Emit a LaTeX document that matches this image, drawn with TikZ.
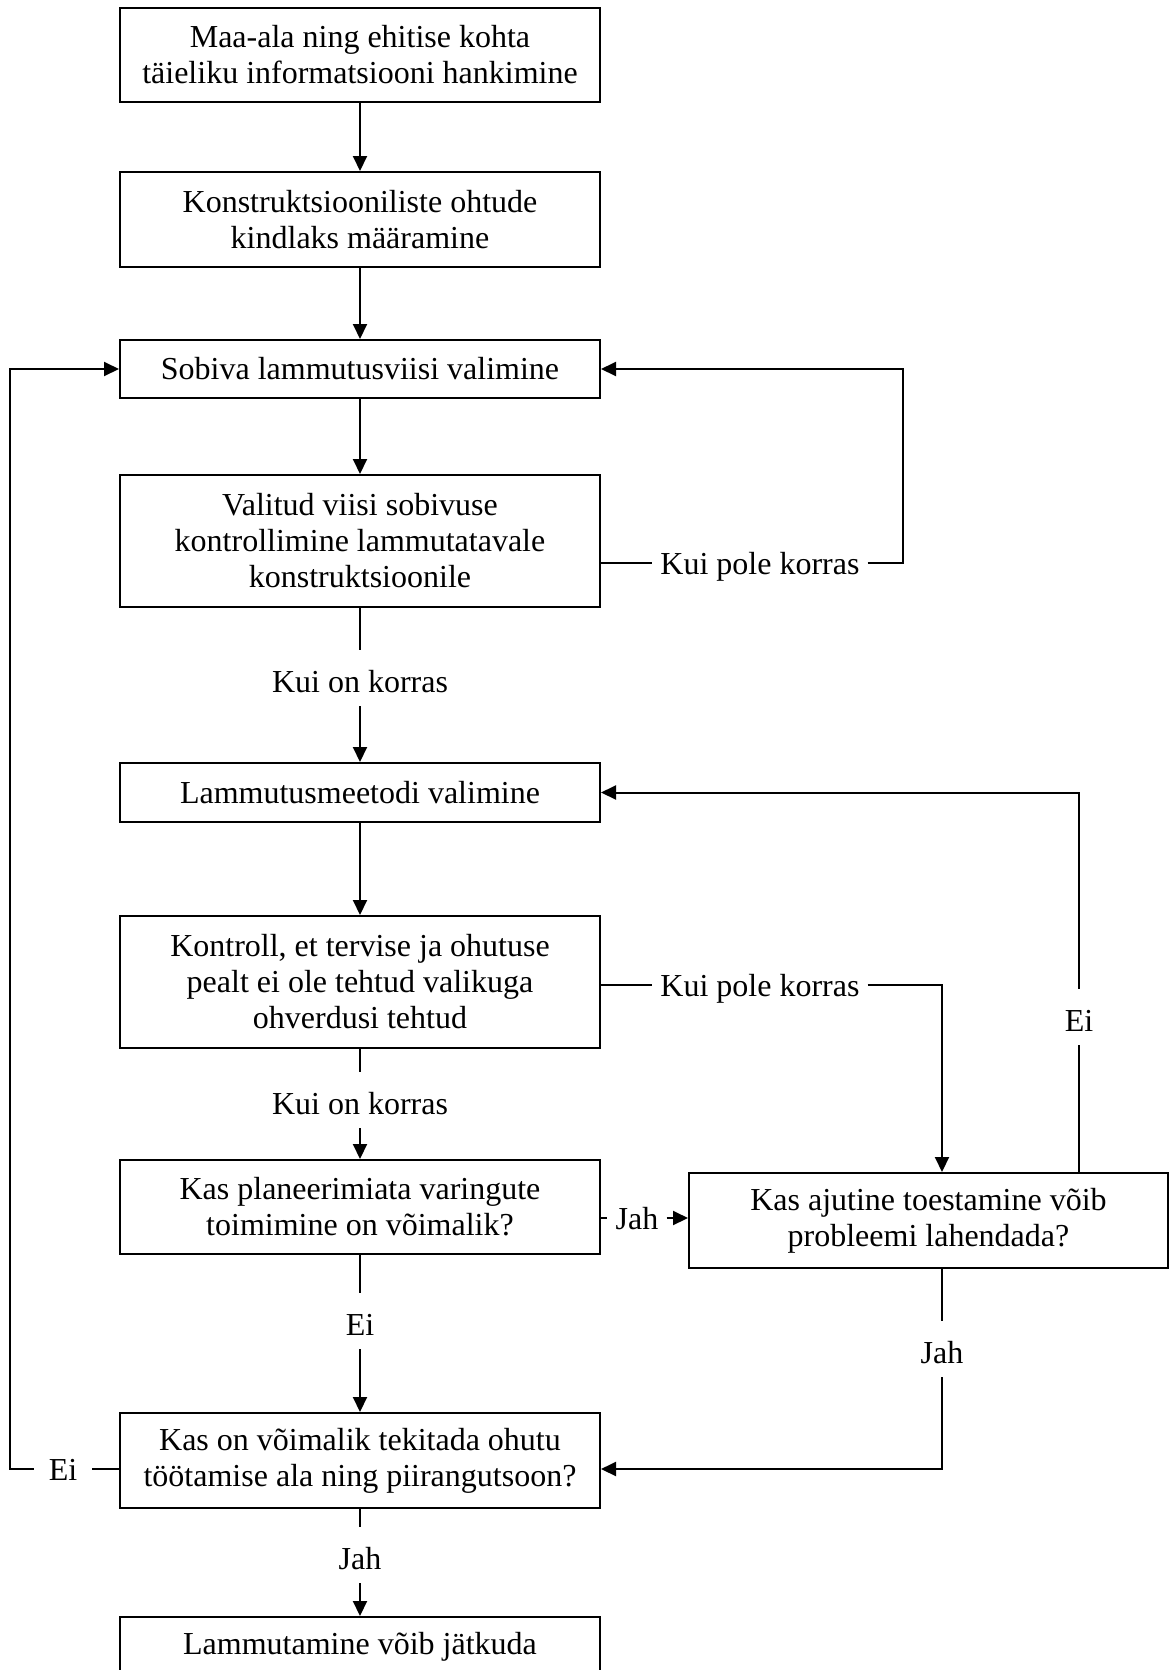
\documentclass[tikz,border=0pt]{standalone}
\usepackage{fontspec}
\setmainfont{Liberation Serif}
\usetikzlibrary{arrows.meta,calc}
\begin{document}
\begin{tikzpicture}[x=1pt,y=-1pt,
  font=\fontsize{32}{36}\selectfont,
  box/.style={draw,line width=2pt,minimum width=480pt,inner sep=0pt,align=center},
  vlab/.style={inner xsep=0pt,inner ysep=14pt,text height=28pt,text depth=0pt},
  hlab/.style={inner xsep=8pt,inner ysep=0pt,text height=23pt,text depth=0pt},
  conn/.style={line width=2pt},
  arr/.style={conn,-{Triangle[length=15pt,width=14pt]}}]
\useasboundingbox (0,0) rectangle (1170,1670);
\clip (0,0) rectangle (1170,1670);
% boxes
\node[box,minimum height=94pt] (b1) at (360,55) {Maa-ala ning ehitise kohta\\täieliku informatsiooni hankimine};
\node[box,minimum height=95pt] (b2) at (360,219.5) {Konstruktsiooniliste ohtude\\kindlaks määramine};
\node[box,minimum height=58pt] (b3) at (360,369) {Sobiva lammutusviisi valimine};
\node[box,minimum height=132pt] (b4) at (360,541) {Valitud viisi sobivuse\\kontrollimine lammutatavale\\konstruktsioonile};
\node[vlab] (k1) at (360,678) {Kui on korras};
\node[box,minimum height=59pt] (b5) at (360,792.5) {Lammutusmeetodi valimine};
\node[box,minimum height=132pt] (b6) at (360,982) {Kontroll, et tervise ja ohutuse\\pealt ei ole tehtud valikuga\\ohverdusi tehtud};
\node[vlab] (k2) at (360,1100) {Kui on korras};
\node[box,minimum height=94pt] (q1) at (360,1207) {Kas planeerimiata varingute\\toimimine on võimalik?};
\node[hlab] (j1) at (637,1218) {Jah};
\node[box,minimum width=479pt,minimum height=95pt] (q2) at (928.5,1220.5) {Kas ajutine toestamine võib\\probleemi lahendada?};
\node[vlab] (e1) at (360,1321) {Ei};
\node[vlab] (j2) at (942,1349) {Jah};
\node[box,minimum height=95pt] (q3) at (360,1460.5) {Kas on võimalik tekitada ohutu\\töötamise ala ning piirangutsoon?};
\node[hlab,inner xsep=15pt] (e2) at (63,1469) {Ei};
\node[vlab] (j3) at (360,1555) {Jah};
\node[box,minimum height=60pt] (fin) at (360,1647) {Lammutamine võib jätkuda};
\node[hlab] (p1) at (760,563) {Kui pole korras};
\node[hlab] (p2) at (760,985) {Kui pole korras};
\node[vlab] (e3) at (1079,1017) {Ei};
\coordinate (c1) at (903,563);
\coordinate (c3) at (10,1469);
% main flow
\draw[arr] (b1) -- (b2);
\draw[arr] (b2) -- (b3);
\draw[arr] (b3) -- (b4);
\draw[conn] (b4) -- (k1);
\draw[arr] (k1) -- (b5);
\draw[arr] (b5) -- (b6);
\draw[conn] (b6) -- (k2);
\draw[arr] (k2) -- (q1);
\draw[conn] (q1) -- (e1);
\draw[arr] (e1) -- (q3);
\draw[conn] (q3) -- (j3);
\draw[arr] (j3) -- (fin);
% loops
\draw[conn] (b4.east |- p1) -- (p1);
\draw[arr] (p1) -- (c1) |- (b3);
\draw[conn] (b6.east |- p2) -- (p2);
\draw[arr] (p2) -| (q2.north -| j2);
\draw[conn] (q1.east |- j1) -- (j1);
\draw[arr] (j1) -- (j1 -| q2.west);
\draw[conn] (q2.north -| e3) -- (e3);
\draw[arr] (e3) |- (b5);
\draw[conn] (q2.south -| j2) -- (j2);
\draw[arr] (j2) |- (q3.east |- e2);
\draw[conn] (q3.west |- e2) -- (e2);
\draw[arr] (e2) -- (c3) |- (b3);
\end{tikzpicture}
\end{document}
